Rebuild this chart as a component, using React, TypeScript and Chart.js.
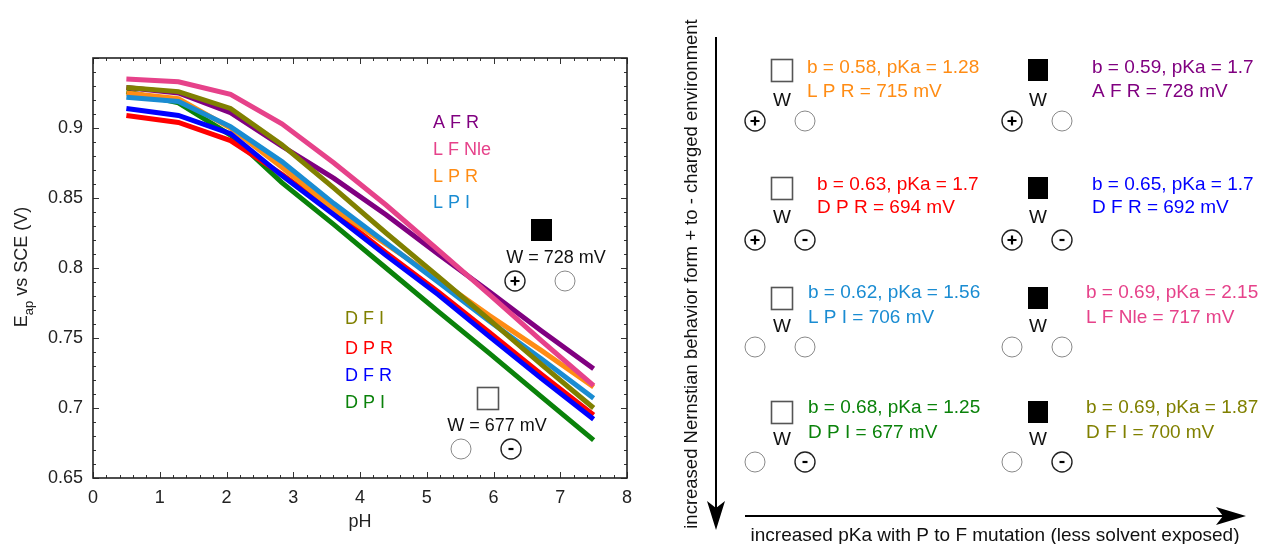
import React, { useEffect, useRef } from 'react';
import { Chart, registerables } from 'chart.js';
Chart.register(...registerables);

// pH sample points
const PH = [0.5, 1.28, 2.06, 2.83, 3.61, 4.39, 5.17, 5.94, 6.72, 7.5];
// E_ap vs SCE (V)
const AFR = [0.929, 0.925, 0.911, 0.887, 0.864, 0.838, 0.810, 0.783, 0.755, 0.728];
const LFNLE = [0.935, 0.933, 0.924, 0.903, 0.875, 0.845, 0.813, 0.781, 0.748, 0.716];
const LPR = [0.925, 0.921, 0.900, 0.872, 0.842, 0.817, 0.792, 0.766, 0.741, 0.715];
const LPI = [0.922, 0.919, 0.901, 0.876, 0.846, 0.818, 0.790, 0.762, 0.735, 0.707];
const DFI = [0.929, 0.926, 0.914, 0.888, 0.857, 0.825, 0.794, 0.763, 0.731, 0.700];
const DPR = [0.909, 0.904, 0.891, 0.867, 0.840, 0.811, 0.783, 0.754, 0.724, 0.695];
const DFR = [0.914, 0.909, 0.896, 0.866, 0.838, 0.809, 0.781, 0.751, 0.721, 0.692];
const DPI = [0.926, 0.918, 0.895, 0.861, 0.831, 0.800, 0.769, 0.739, 0.708, 0.677];

const X_TICKS = [0, 1, 2, 3, 4, 5, 6, 7, 8];
const Y_TICKS = [0.65, 0.7, 0.75, 0.8, 0.85, 0.9];

const C = {
  purple: '#800080',
  pink: '#E6428A',
  orange: '#FF8C14',
  lblue: '#1A8CD2',
  olive: '#808000',
  red: '#FF0000',
  blue: '#0000FF',
  green: '#0A820A',
};

// top-most first (Chart.js draws dataset 0 on top)
const SERIES = [
  { label: 'D F I', data: DFI, color: C.olive },
  { label: 'L P I', data: LPI, color: C.lblue },
  { label: 'D F R', data: DFR, color: C.blue },
  { label: 'L F Nle', data: LFNLE, color: C.pink },
  { label: 'A F R', data: AFR, color: C.purple },
  { label: 'L P R', data: LPR, color: C.orange },
  { label: 'D P R', data: DPR, color: C.red },
  { label: 'D P I', data: DPI, color: C.green },
];

const FONT = '"Liberation Sans", Arial, sans-serif';

// text labels inside the plot
const CHART_LABELS = [
  { t: 'A F R', x: 433, y: 123, c: C.purple },
  { t: 'L F Nle', x: 433, y: 150, c: C.pink },
  { t: 'L P R', x: 433, y: 177, c: C.orange },
  { t: 'L P I', x: 433, y: 203, c: C.lblue },
  { t: 'D F I', x: 345, y: 319, c: C.olive },
  { t: 'D P R', x: 345, y: 349, c: C.red },
  { t: 'D F R', x: 345, y: 376, c: C.blue },
  { t: 'D P I', x: 345, y: 403, c: C.green },
];

// right-hand diagram cells
const PANELS = [
  { col: 0, row: 0, l1: 'b = 0.58, pKa = 1.28', l2: 'L P R = 715 mV', c: C.orange, tx: 807, left: '+', right: '' },
  { col: 1, row: 0, l1: 'b = 0.59, pKa = 1.7', l2: 'A F R = 728 mV', c: C.purple, tx: 1092, left: '+', right: '' },
  { col: 0, row: 1, l1: 'b = 0.63, pKa = 1.7', l2: 'D P R = 694 mV', c: C.red, tx: 817, left: '+', right: '-' },
  { col: 1, row: 1, l1: 'b = 0.65, pKa = 1.7', l2: 'D F R = 692 mV', c: C.blue, tx: 1092, left: '+', right: '-' },
  { col: 0, row: 2, l1: 'b = 0.62, pKa = 1.56', l2: 'L P I = 706 mV', c: C.lblue, tx: 808, left: '', right: '' },
  { col: 1, row: 2, l1: 'b = 0.69, pKa = 2.15', l2: 'L F Nle = 717 mV', c: C.pink, tx: 1086, left: '', right: '' },
  { col: 0, row: 3, l1: 'b = 0.68, pKa = 1.25', l2: 'D P I = 677 mV', c: C.green, tx: 808, left: '', right: '-' },
  { col: 1, row: 3, l1: 'b = 0.69, pKa = 1.87', l2: 'D F I = 700 mV', c: C.olive, tx: 1086, left: '', right: '-' },
];
const ROWS = [
  { sq: 59, t1: 68, t2: 92, w: 101, cy: 121 },
  { sq: 177, t1: 185, t2: 208, w: 218, cy: 240 },
  { sq: 287, t1: 293, t2: 318, w: 327, cy: 347 },
  { sq: 401, t1: 408, t2: 433, w: 440, cy: 462 },
];
const COLS = [
  { sq: 771, w: 782, cl: 755, cr: 805, filled: false },
  { sq: 1028, w: 1038, cl: 1012, cr: 1062, filled: true },
];

function circle(ctx: CanvasRenderingContext2D, x: number, y: number, sign: string) {
  ctx.save();
  ctx.beginPath();
  ctx.arc(x, y, 10, 0, Math.PI * 2);
  ctx.fillStyle = '#fff';
  ctx.fill();
  ctx.strokeStyle = sign ? '#222' : '#888';
  ctx.lineWidth = sign ? 1.4 : 1;
  ctx.stroke();
  ctx.strokeStyle = '#000';
  ctx.lineWidth = 2.2;
  if (sign === '+') {
    ctx.beginPath();
    ctx.moveTo(x - 4.5, y);
    ctx.lineTo(x + 4.5, y);
    ctx.moveTo(x, y - 4.5);
    ctx.lineTo(x, y + 4.5);
    ctx.stroke();
  } else if (sign === '-') {
    ctx.beginPath();
    ctx.moveTo(x - 2.5, y);
    ctx.lineTo(x + 2.5, y);
    ctx.stroke();
  }
  ctx.restore();
}

function square(ctx: CanvasRenderingContext2D, x: number, y: number, w: number, h: number, filled: boolean) {
  ctx.save();
  if (filled) {
    ctx.fillStyle = '#000';
    ctx.fillRect(x, y, w, h);
  } else {
    ctx.strokeStyle = '#555';
    ctx.lineWidth = 1.6;
    ctx.strokeRect(x + 0.5, y + 0.5, w - 1, h - 1);
  }
  ctx.restore();
}

function text(ctx: CanvasRenderingContext2D, t: string, x: number, y: number, color: string, size: number, align: CanvasTextAlign = 'left') {
  ctx.save();
  ctx.font = `${size}px ${FONT}`;
  ctx.fillStyle = color;
  ctx.textAlign = align;
  ctx.textBaseline = 'middle';
  ctx.fillText(t, x, y);
  ctx.restore();
}

const framePlugin = {
  id: 'frameTicks',
  afterDatasetsDraw(chart: any) {
    const ctx: CanvasRenderingContext2D = chart.ctx;
    const { left, right, top, bottom } = chart.chartArea;
    const xs = chart.scales.x;
    const ys = chart.scales.y;
    ctx.save();
    ctx.strokeStyle = '#333';
    ctx.lineWidth = 1;
    for (let k = 0; k <= 40; k++) {
      const px = Math.round(xs.getPixelForValue(k * 0.2)) + 0.5;
      const len = k % 5 === 0 ? 6 : 3;
      ctx.beginPath();
      ctx.moveTo(px, bottom);
      ctx.lineTo(px, bottom - len);
      ctx.moveTo(px, top);
      ctx.lineTo(px, top + len);
      ctx.stroke();
    }
    for (let k = 0; k <= 30; k++) {
      const py = Math.round(ys.getPixelForValue(0.65 + k * 0.01)) + 0.5;
      const len = k % 5 === 0 ? 6 : 3;
      ctx.beginPath();
      ctx.moveTo(left, py);
      ctx.lineTo(left + len, py);
      ctx.moveTo(right, py);
      ctx.lineTo(right - len, py);
      ctx.stroke();
    }
    ctx.lineWidth = 1.6;
    ctx.strokeStyle = '#222';
    ctx.strokeRect(left, top, right - left, bottom - top);
    ctx.restore();
  },
  afterDraw(chart: any) {
    const ctx: CanvasRenderingContext2D = chart.ctx;
    // axis titles
    text(ctx, 'pH', 360, 522, '#222', 18, 'center');
    ctx.save();
    ctx.translate(22, 267);
    ctx.rotate(-Math.PI / 2);
    ctx.font = `18px ${FONT}`;
    const wE = ctx.measureText('E').width;
    const rest = ' vs SCE (V)';
    const wR = ctx.measureText(rest).width;
    ctx.font = `13px ${FONT}`;
    const wS = ctx.measureText('ap').width;
    const total = wE + wS + wR;
    const x0 = -total / 2;
    ctx.fillStyle = '#222';
    ctx.textBaseline = 'middle';
    ctx.font = `18px ${FONT}`;
    ctx.fillText('E', x0, 0);
    ctx.font = `13px ${FONT}`;
    ctx.fillText('ap', x0 + wE, 7);
    ctx.font = `18px ${FONT}`;
    ctx.fillText(rest, x0 + wE + wS, 0);
    ctx.restore();

    // in-plot labels
    CHART_LABELS.forEach((l) => text(ctx, l.t, l.x, l.y, l.c, 18));
    square(ctx, 531, 219, 21, 22, true);
    text(ctx, 'W = 728 mV', 556, 258, '#111', 18, 'center');
    circle(ctx, 515, 281, '+');
    circle(ctx, 565, 281, '');
    square(ctx, 477, 387, 22, 23, false);
    text(ctx, 'W = 677 mV', 497, 426, '#111', 18, 'center');
    circle(ctx, 461, 449, '');
    circle(ctx, 511, 449, '-');

    // right diagram: arrows
    ctx.save();
    ctx.strokeStyle = '#000';
    ctx.fillStyle = '#000';
    ctx.lineWidth = 2;
    ctx.beginPath();
    ctx.moveTo(716, 37);
    ctx.lineTo(716, 512);
    ctx.stroke();
    ctx.beginPath();
    ctx.moveTo(716, 530);
    ctx.lineTo(707, 501);
    ctx.lineTo(716, 508);
    ctx.lineTo(725, 501);
    ctx.closePath();
    ctx.fill();
    ctx.beginPath();
    ctx.moveTo(745, 516);
    ctx.lineTo(1228, 516);
    ctx.stroke();
    ctx.beginPath();
    ctx.moveTo(1246, 516);
    ctx.lineTo(1216, 507);
    ctx.lineTo(1223, 516);
    ctx.lineTo(1216, 525);
    ctx.closePath();
    ctx.fill();
    ctx.restore();

    ctx.save();
    ctx.translate(692, 274);
    ctx.rotate(-Math.PI / 2);
    ctx.font = `18.5px ${FONT}`;
    ctx.fillStyle = '#111';
    ctx.textAlign = 'center';
    ctx.textBaseline = 'middle';
    ctx.fillText('increased Nernstian behavior form + to - charged environment', 0, 0);
    ctx.restore();
    text(ctx, 'increased pKa with P to F mutation (less solvent exposed)', 995, 536, '#111', 19, 'center');

    // panels
    PANELS.forEach((p) => {
      const r = ROWS[p.row];
      const c = COLS[p.col];
      square(ctx, c.sq, r.sq, c.filled ? 20 : 22, c.filled ? 22 : 23, c.filled);
      text(ctx, 'W', c.w, r.w, '#111', 19, 'center');
      circle(ctx, c.cl, r.cy, p.left);
      circle(ctx, c.cr, r.cy, p.right);
      text(ctx, p.l1, p.tx, r.t1, p.c, 19);
      text(ctx, p.l2, p.tx, r.t2, p.c, 19);
    });
  },
};

export default function App() {
  const ref = useRef<HTMLCanvasElement | null>(null);
  useEffect(() => {
    if (!ref.current) return;
    const tickFont = { family: FONT, size: 18 };
    const chart = new Chart(ref.current, {
      type: 'line',
      data: {
        datasets: SERIES.map((s) => ({
          label: s.label,
          data: PH.map((x, i) => ({ x, y: s.data[i] })),
          borderColor: s.color,
          backgroundColor: s.color,
          borderWidth: 5,
          pointRadius: 0,
          tension: 0,
          fill: false,
        })),
      },
      options: {
        animation: false,
        responsive: true,
        maintainAspectRatio: false,
        layout: { padding: { left: 0, top: 58, right: 635, bottom: 0 } },
        plugins: { legend: { display: false }, tooltip: { enabled: false } },
        scales: {
          x: {
            type: 'linear',
            min: 0,
            max: 8,
            afterBuildTicks: (s: any) => {
              s.ticks = X_TICKS.map((v) => ({ value: v }));
            },
            ticks: { font: tickFont, color: '#222', padding: 9, maxRotation: 0, autoSkip: false, callback: (v: any) => String(v) },
            grid: { display: false, drawTicks: false },
            border: { display: false },
            afterFit: (s: any) => {
              s.height = 66;
            },
          },
          y: {
            type: 'linear',
            min: 0.65,
            max: 0.95,
            afterBuildTicks: (s: any) => {
              s.ticks = Y_TICKS.map((v) => ({ value: v }));
            },
            ticks: { font: tickFont, color: '#222', padding: 10, callback: (v: any) => String(Math.round(Number(v) * 100) / 100) },
            grid: { display: false, drawTicks: false },
            border: { display: false },
            afterFit: (s: any) => {
              s.width = 93;
            },
          },
        },
      } as any,
      plugins: [framePlugin],
    });
    return () => chart.destroy();
  }, []);
  return (
    <div style={{ position: 'absolute', left: 0, top: 0, width: 1262, height: 544, background: '#fff' }}>
      <canvas ref={ref} />
    </div>
  );
}
